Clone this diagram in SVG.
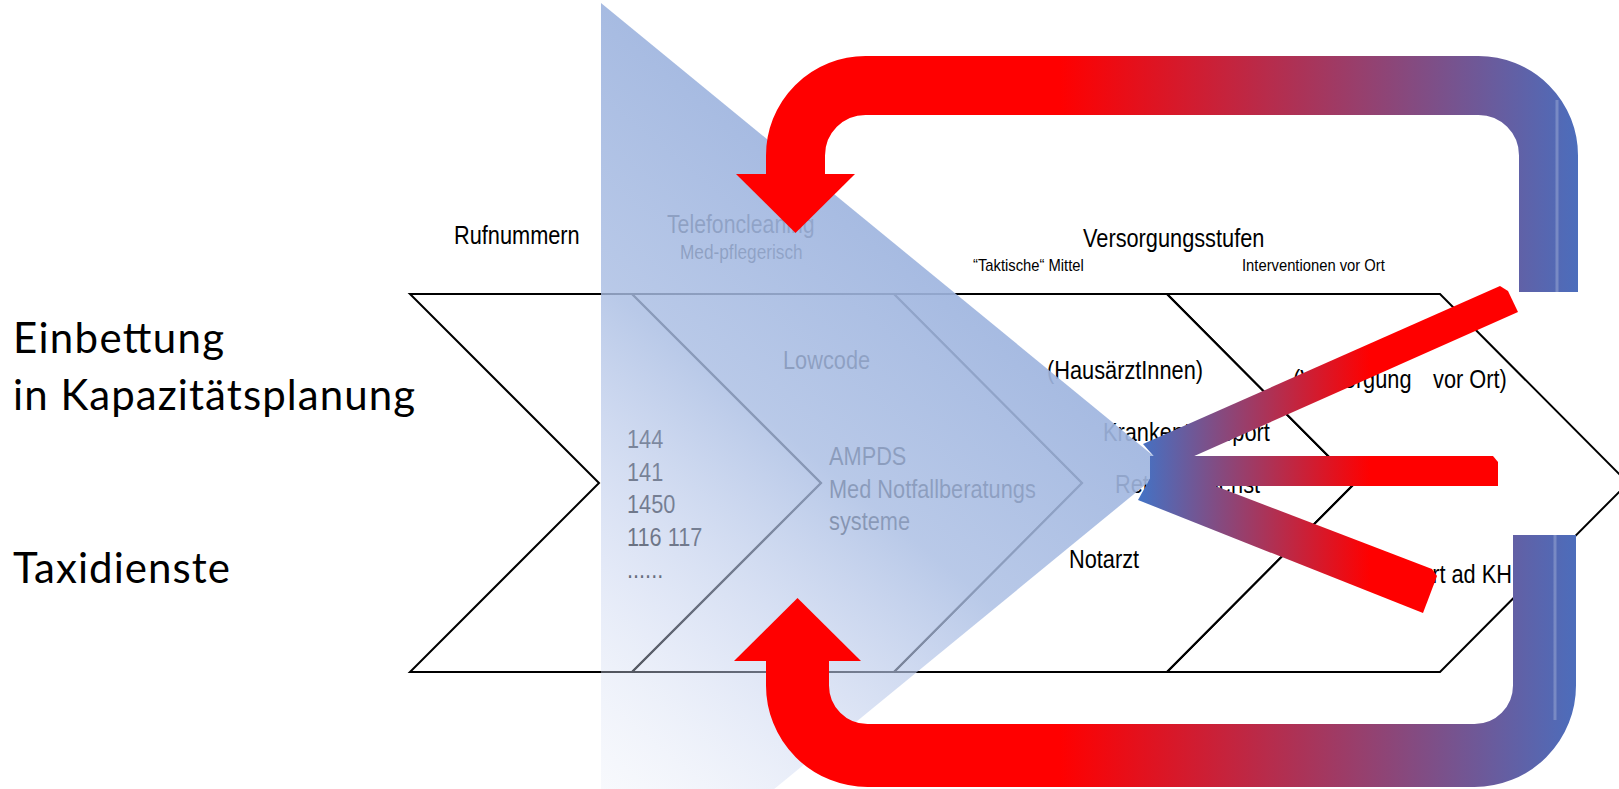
<svg xmlns="http://www.w3.org/2000/svg" width="1619" height="789" viewBox="0 0 1619 789">
  <defs>
    <!-- red-to-blue feedback loops -->
    <linearGradient id="loopGrad" gradientUnits="userSpaceOnUse" x1="1060" y1="0" x2="1600" y2="0">
      <stop offset="0" stop-color="#ff0000"/>
      <stop offset="1" stop-color="#4472c4"/>
    </linearGradient>
    <!-- blue-to-red fan of outgoing arrows -->
    <linearGradient id="fanGrad" gradientUnits="userSpaceOnUse" x1="1140" y1="0" x2="1370" y2="0">
      <stop offset="0" stop-color="#4472c4"/>
      <stop offset="1" stop-color="#ff0000"/>
    </linearGradient>
    <!-- translucent focus wedge -->
    <linearGradient id="focusGrad" gradientUnits="userSpaceOnUse" x1="1056" y1="378" x2="601" y2="931">
      <stop offset="0" stop-color="#9fb5df" stop-opacity="0.92"/>
      <stop offset="0.3" stop-color="#a9bde3" stop-opacity="0.82"/>
      <stop offset="0.6" stop-color="#c6d2ef" stop-opacity="0.5"/>
      <stop offset="0.85" stop-color="#e2e8f6" stop-opacity="0.25"/>
      <stop offset="1" stop-color="#ffffff" stop-opacity="0.1"/>
    </linearGradient>
  </defs>
  <style>
    .chev { fill: none; stroke: #000; stroke-width: 2; stroke-linejoin: miter; }
    .nar { font-family: "Liberation Sans", Arial, sans-serif; fill: #000; }
    .lg { font-size: 25.6px; }
    .md { font-size: 20.3px; }
    .sm { font-size: 17.4px; }
    .big { font-family: Lato, "Open Sans", sans-serif; font-size: 42px; fill: #000; }
    .loop { fill: none; stroke: url(#loopGrad); }
    .shine { stroke: #ffffff; stroke-opacity: 0.22; stroke-width: 3; }
  </style>

  <rect width="1619" height="789" fill="#ffffff"/>

  <!-- left-hand labels -->
  <g id="side-labels">
    <text class="big" x="13" y="353" textLength="211">Einbettung</text>
    <text class="big" x="13" y="410" textLength="402">in Kapazitätsplanung</text>
    <text class="big" x="13" y="583" textLength="217">Taxidienste</text>
  </g>

  <!-- process chevrons; labels use a condensed horizontal scale -->
  <g id="chevron-rufnummern">
    <polygon class="chev" points="410,294 632,294 821,483 632,672 410,672 599,483"/>
    <g class="nar" transform="scale(0.85 1)">
      <text class="lg" x="534.1" y="244">Rufnummern</text>
      <text class="lg" x="737.6" y="448" font-size="25.3">144</text>
      <text class="lg" x="737.6" y="481" font-size="25.3">141</text>
      <text class="lg" x="737.6" y="513" font-size="25.3">1450</text>
      <text class="lg" x="737.6" y="546" font-size="25.3">116 117</text>
      <text class="lg" x="737.6" y="578" font-size="25.3">......</text>
    </g>
  </g>

  <g id="chevron-telefonclearing">
    <polygon class="chev" points="632,294 894,294 1082,483 894,672 632,672 821,483"/>
    <g class="nar" transform="scale(0.85 1)">
      <text class="lg" x="784.7" y="233" style="font-size:25px">Telefoncleaning</text>
      <text class="md" x="800" y="259">Med-pflegerisch</text>
      <text class="lg" x="921.2" y="369">Lowcode</text>
      <text class="lg" x="975.3" y="465">AMPDS</text>
      <text class="lg" x="975.3" y="498">Med Notfallberatungs</text>
      <text class="lg" x="975.3" y="530">systeme</text>
    </g>
  </g>

  <g id="chevron-taktische-mittel">
    <polygon class="chev" points="894,294 1167,294 1355,483 1167,672 894,672 1082,483"/>
    <g class="nar" transform="scale(0.85 1)">
      <text class="lg" x="1274.1" y="247">Versorgungsstufen</text>
      <text class="sm" x="1144.7" y="271">“Taktische“ Mittel</text>
      <text class="lg" x="1231.8" y="379">(HausärztInnen)</text>
      <text class="lg" x="1297.6" y="441">Krankentransport</text>
      <text class="lg" x="1311.8" y="493">Rettungsdienst</text>
      <text class="lg" x="1257.6" y="568">Notarzt</text>
    </g>
  </g>

  <g id="chevron-interventionen">
    <polygon class="chev" points="1167,294 1440,294 1628,483 1440,672 1167,672 1355,483"/>
    <g class="nar" transform="scale(0.85 1)">
      <text class="sm" x="1461.2" y="271">Interventionen vor Ort</text>
      <text class="lg" x="1521.2" y="388">(Versorgung<tspan x="1685.9">vor Ort)</tspan></text>
      <text class="lg" x="1778.8" y="583" text-anchor="end">Transport ad KH</text>
    </g>
  </g>

  <!-- translucent focus wedge over the dispatch stages -->
  <polygon id="focus-wedge" points="601,3 1167,467 601,931" fill="url(#focusGrad)"/>

  <g id="connectors">
    <!-- fan from the wedge tip to the care levels -->
    <polygon fill="url(#fanGrad)" points="1143,444 1500,286 1508,291 1518,312 1165,469"/>
    <polygon fill="url(#fanGrad)" points="1150,456 1493,456 1498,462 1498,486 1150,486"/>
    <polygon fill="url(#fanGrad)" points="1158,464 1432,569 1437,576 1423,613 1138,500"/>

    <!-- upper return loop -->
    <path class="loop" stroke-width="59" d="M1548.5,292 V155.5 A70,70 0 0 0 1478.5,85.5 H865.5 A70,70 0 0 0 795.5,155.5 V175"/>
    <polygon fill="url(#loopGrad)" points="736,174 855,174 795.5,233"/>
    <line class="shine" x1="1557" y1="100" x2="1557" y2="292"/>

    <!-- lower return loop -->
    <path class="loop" stroke-width="63" d="M1544.5,535 V685.5 A70,70 0 0 1 1474.5,755.5 H867.5 A70,70 0 0 1 797.5,685.5 V660"/>
    <polygon fill="url(#loopGrad)" points="734,661 861,661 797.5,598"/>
    <line class="shine" x1="1555" y1="535" x2="1555" y2="720"/>
  </g>
</svg>
